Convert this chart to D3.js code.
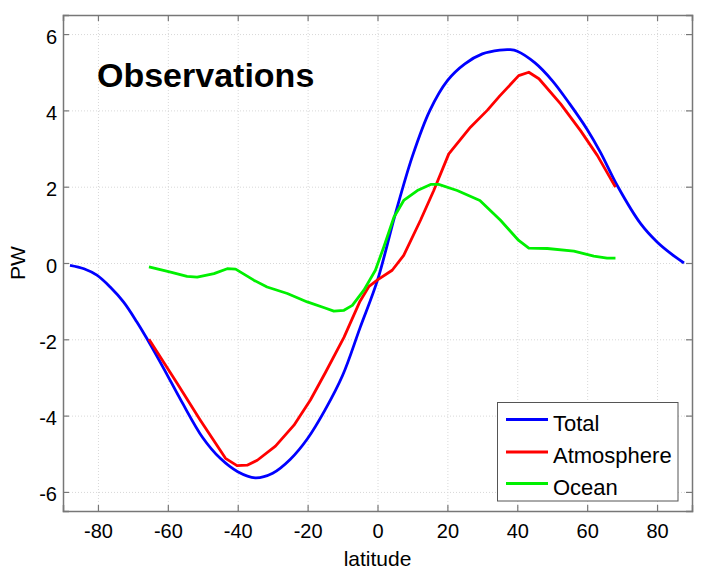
<!DOCTYPE html>
<html><head><meta charset="utf-8">
<script src="https://cdn.jsdelivr.net/npm/d3@7"></script>
<style>body{margin:0;background:#fff}svg{display:block}text{font-family:"Liberation Sans",Arial,sans-serif}</style>
</head><body>
<script>
const xTicks = [-80,-60,-40,-20,0,20,40,60,80];
const yTicks = [-6,-4,-2,0,2,4,6];
const seriesNames = ["Total","Atmosphere","Ocean"];
const seriesColors = ["#0000ff","#ff0000","#00f000"];
const totalData = [[-88,-0.06],[-84,-0.15],[-80.3,-0.32],[-76.5,-0.63],[-72.7,-1.02],[-68.9,-1.54],[-66,-1.98],[-61.2,-2.76],[-56,-3.64],[-50,-4.58],[-45,-5.12],[-40,-5.47],[-35,-5.63],[-30,-5.51],[-25,-5.15],[-20,-4.6],[-15,-3.85],[-10,-2.95],[-5,-1.7],[0,-0.45],[5,1.25],[10,2.8],[15,4.0],[20,4.78],[25,5.22],[30,5.48],[35,5.58],[38,5.59],[40,5.55],[45,5.25],[50,4.78],[55,4.17],[60,3.5],[63.8,2.9],[68.6,2.03],[75.3,1.03],[80,0.55],[83.9,0.25],[87.7,0.0]];
const atmosData = [[-65.4,-2.0],[-57.3,-3.16],[-50.7,-4.12],[-43.5,-5.12],[-40.2,-5.31],[-37.3,-5.3],[-34.4,-5.17],[-29.2,-4.8],[-23.9,-4.25],[-19.2,-3.59],[-14.9,-2.87],[-9.6,-1.95],[-5,-1.0],[-2.5,-0.62],[-0.1,-0.45],[4.2,-0.19],[7.5,0.2],[12.3,1.12],[16.1,1.9],[20.4,2.86],[26.6,3.56],[31.4,4.0],[35,4.38],[40.4,4.91],[43.3,5.0],[46.2,4.83],[52.4,4.17],[58.1,3.47],[62.9,2.82],[68.1,1.99]];
const oceanData = [[-65.4,-0.1],[-59.2,-0.24],[-54.5,-0.35],[-51.6,-0.37],[-46.8,-0.28],[-43,-0.15],[-40.6,-0.16],[-35.4,-0.45],[-31.6,-0.63],[-25.8,-0.8],[-20.1,-1.02],[-15,-1.18],[-12.5,-1.26],[-9.6,-1.24],[-7.2,-1.11],[-3.9,-0.71],[-0.6,-0.19],[1.8,0.42],[4.7,1.2],[7.5,1.64],[11.4,1.9],[15.2,2.06],[17.5,2.06],[22.8,1.9],[29.3,1.64],[35.2,1.12],[40.4,0.59],[43.3,0.39],[48.6,0.38],[56.2,0.31],[61.9,0.18],[65.7,0.13],[68.1,0.13]];
const allSeries = [totalData, atmosData, oceanData];

const W = 707, H = 575;
const L = 63, R = 692, T = 15, B = 511;
const svg = d3.select("body").append("svg").attr("width", W).attr("height", H);
const x = d3.scaleLinear().domain([-90, 90]).range([L, R]);
const y = d3.scaleLinear().domain([-6.5, 6.5]).range([B, T]);

// grid
const grid = svg.append("g").attr("stroke", "#d8d8d8").attr("stroke-width", 1).attr("stroke-dasharray", "1,2");
grid.selectAll("line.gx").data(xTicks).join("line").attr("x1", d => x(d)+0.5).attr("x2", d => x(d)+0.5).attr("y1", T).attr("y2", B);
grid.selectAll("line.gy").data(yTicks).join("line").attr("y1", d => y(d)+0.5).attr("y2", d => y(d)+0.5).attr("x1", L).attr("x2", R);

// axes
const axColor = "#777";
const xb = svg.append("g").attr("transform", `translate(0,${B})`).call(d3.axisBottom(x).tickValues(xTicks).tickSize(-6).tickPadding(13));
const xt = svg.append("g").attr("transform", `translate(0,${T})`).call(d3.axisTop(x).tickValues(xTicks).tickSize(-6).tickFormat(""));
const yl = svg.append("g").attr("transform", `translate(${L},0)`).call(d3.axisLeft(y).tickValues(yTicks).tickSize(-6).tickPadding(6));
const yr = svg.append("g").attr("transform", `translate(${R},0)`).call(d3.axisRight(y).tickValues(yTicks).tickSize(-6).tickFormat(""));
[xb, xt, yl, yr].forEach(g => {
  g.select(".domain").attr("stroke", axColor).attr("stroke-width", 1.5);
  g.selectAll(".tick line").attr("stroke", axColor).attr("stroke-width", 1.2);
  g.selectAll("text").attr("font-size", 20).attr("fill", "#000").attr("font-family", '"Liberation Sans",Arial,sans-serif');
});
xb.selectAll(".tick text").text(d => d < 0 ? "-" + Math.abs(d) : d);
yl.selectAll(".tick text").text(d => d < 0 ? "-" + Math.abs(d) : d).attr("dy", "0.45em");

// lines
const smooth = d3.line().x(d => x(d[0])).y(d => y(d[1])).curve(d3.curveCatmullRom.alpha(0.5));
const line = d3.line().x(d => x(d[0])).y(d => y(d[1]));
svg.append("g").selectAll("path").data(allSeries).join("path")
  .attr("d", (d, i) => i === 0 ? smooth(d) : line(d)).attr("fill", "none")
  .attr("stroke", (d, i) => seriesColors[i]).attr("stroke-width", 2.8)
  .attr("stroke-linejoin", "round");

// labels
svg.append("text").attr("x", (L + R) / 2).attr("y", 566).attr("text-anchor", "middle").attr("font-size", 21).text("latitude");
svg.append("text").attr("transform", "translate(25,263) rotate(-90)").attr("text-anchor", "middle").attr("font-size", 21).text("PW");
svg.append("text").attr("x", 97).attr("y", 87).attr("font-size", 34).attr("font-weight", "bold").text("Observations");

// legend
const lg = svg.append("g");
lg.append("rect").attr("x", 497.5).attr("y", 402.5).attr("width", 180.5).attr("height", 98.5).attr("fill", "#fff").attr("stroke", "#555").attr("stroke-width", 1);
const rowsY = [419.5, 452, 483.5];
seriesNames.forEach((n, i) => {
  lg.append("line").attr("x1", 506).attr("x2", 548).attr("y1", rowsY[i]).attr("y2", rowsY[i]).attr("stroke", seriesColors[i]).attr("stroke-width", 2.8);
  lg.append("text").attr("x", 553).attr("y", rowsY[i] + 11).attr("font-size", 22).text(n);
});
</script>
</body></html>
